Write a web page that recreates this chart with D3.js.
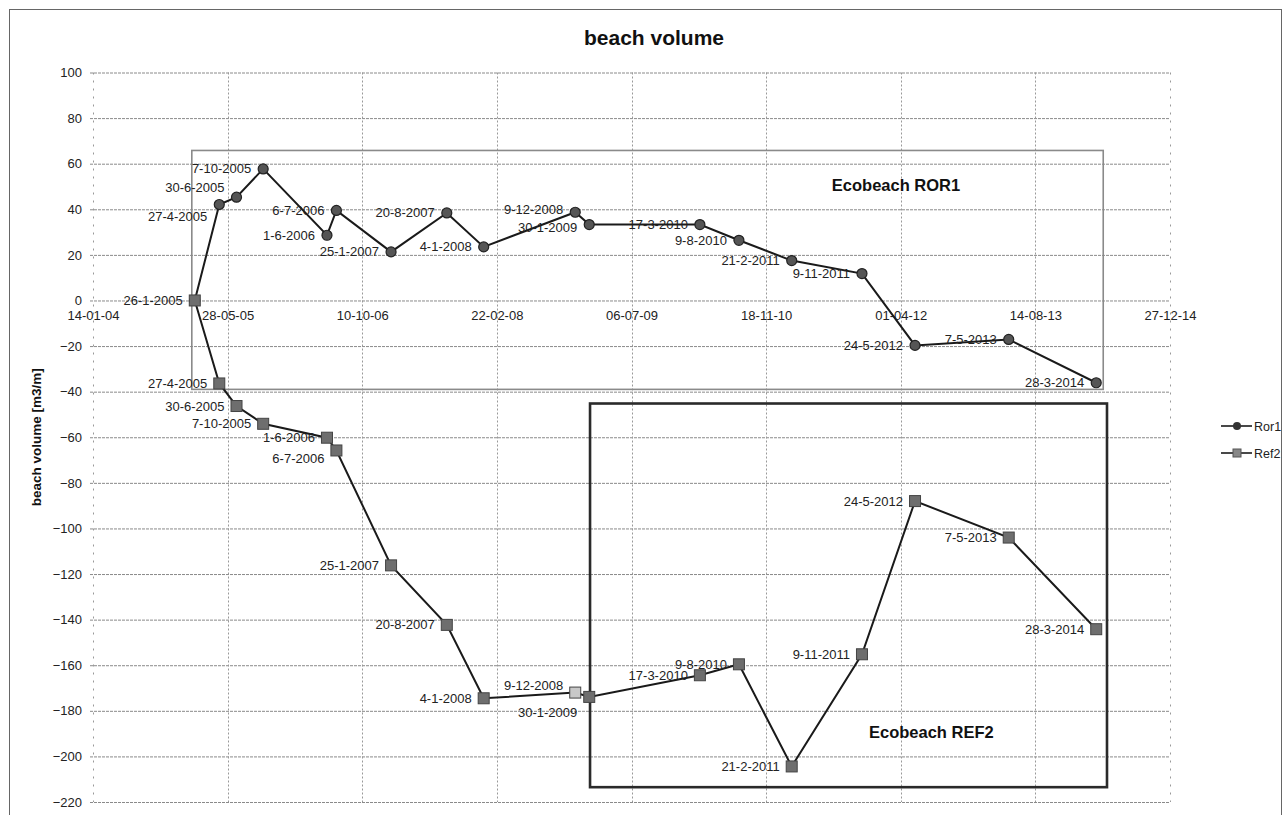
<!DOCTYPE html>
<html>
<head>
<meta charset="utf-8">
<script src="https://cdn.jsdelivr.net/npm/d3@7"></script>
<style>
  html, body { margin: 0; padding: 0; background: #fff; }
  svg { display: block; font-family: "Liberation Sans", Arial, sans-serif; }
</style>
</head>
<body>
<svg id="chart" width="1287" height="815"></svg>
<script>
// ---- data ----
const dates = ["26-1-2005","27-4-2005","30-6-2005","7-10-2005","1-6-2006","6-7-2006","25-1-2007","20-8-2007","4-1-2008","9-12-2008","30-1-2009","17-3-2010","9-8-2010","21-2-2011","9-11-2011","24-5-2012","7-5-2013","28-3-2014"];
const ror1 = [0, 42.1, 45.3, 57.7, 28.6, 39.5, 21.3, 38.4, 23.5, 38.7, 33.3, 33.3, 26.4, 17.5, 11.8, -19.7, -17.1, -36.1];
const ref2 = [0, -36.4, -46.3, -54.1, -60.2, -65.8, -116.2, -142.3, -174.5, -172.0, -173.9, -164.4, -159.6, -204.4, -155.2, -88.0, -104.0, -144.2];
const xTickLabels = ["14-01-04","28-05-05","10-10-06","22-02-08","06-07-09","18-11-10","01-04-12","14-08-13","27-12-14"];
const yTickValues = [100, 80, 60, 40, 20, 0, -20, -40, -60, -80, -100, -120, -140, -160, -180, -200, -220];
const seriesNames = ["Ror1", "Ref2"];
const titleText = "beach volume";
const yTitle = "beach volume [m3/m]";
// annotation boxes in data units: [startDate, endDate, topValue, bottomValue, label]
const boxRor1 = ["15-1-2005", "23-4-2014", 65.8, -39, "Ecobeach ROR1"];
const boxRef2 = ["2-2-2009", "7-5-2014", -45.2, -213.5, "Ecobeach REF2"];

// ---- layout ----
const parseLong = d3.timeParse("%d-%m-%Y");
const parseShort = d3.timeParse("%d-%m-%y");
const svg = d3.select("#chart");

const x = d3.scaleTime()
  .domain([parseShort(xTickLabels[0]), parseShort(xTickLabels[xTickLabels.length - 1])])
  .range([93, 1170]);
const y = d3.scaleLinear().domain([-220, 100]).range([802, 72.5]);

// outer border
svg.append("rect").attr("x", 9.5).attr("y", 9.5).attr("width", 1272).attr("height", 810)
  .attr("fill", "none").attr("stroke", "#666").attr("stroke-width", 1);

// title
svg.append("text").attr("x", 654).attr("y", 45).attr("text-anchor", "middle")
  .attr("font-weight", "bold").attr("font-size", 21).attr("fill", "#111").text(titleText);

// gridlines
const grid = svg.append("g");
grid.selectAll("line.h").data(yTickValues).enter().append("line")
  .attr("x1", 90).attr("x2", 1170)
  .attr("y1", d => y(d) + 0.5).attr("y2", d => y(d) + 0.5)
  .attr("stroke", "#8a8a8a").attr("stroke-width", 1).attr("stroke-dasharray", "3,1");
grid.selectAll("line.v").data(xTickLabels).enter().append("line")
  .attr("x1", d => Math.round(x(parseShort(d))) + 0.5).attr("x2", d => Math.round(x(parseShort(d))) + 0.5)
  .attr("y1", y(100)).attr("y2", y(-220))
  .attr("stroke", "#999").attr("stroke-width", 1)
  .attr("stroke-dasharray", (d, i) => (i === 0 || i === xTickLabels.length - 1) ? "2,6" : "2,2");

// y axis labels
const yAxis = d3.axisLeft(y).tickValues(yTickValues).tickSize(0).tickPadding(0);
const yg = svg.append("g").attr("transform", "translate(82,0)").call(yAxis);
yg.select(".domain").remove();
yg.selectAll("text").attr("font-size", 13).attr("fill", "#222")
  .attr("font-family", "Liberation Sans, Arial, sans-serif");

// x axis labels (at y = 0 line)
const xAxis = d3.axisBottom(x).tickValues(xTickLabels.map(parseShort))
  .tickFormat((d, i) => xTickLabels[i]).tickSize(0).tickPadding(0);
const xg = svg.append("g").attr("transform", `translate(0,${y(0) + 10})`).call(xAxis);
xg.select(".domain").remove();
xg.selectAll("text").attr("font-size", 13).attr("fill", "#222")
  .attr("font-family", "Liberation Sans, Arial, sans-serif");

// y axis title
svg.append("text").attr("transform", `translate(41,${(y(100) + y(-220)) / 2}) rotate(-90)`)
  .attr("text-anchor", "middle").attr("font-weight", "bold").attr("font-size", 13.5)
  .attr("fill", "#111").text(yTitle);

// annotation boxes
function drawBox(b, stroke, width, dash) {
  const x0 = x(parseLong(b[0])), x1 = x(parseLong(b[1]));
  const y0 = y(b[2]), y1 = y(b[3]);
  svg.append("rect").attr("x", x0).attr("y", y0).attr("width", x1 - x0).attr("height", y1 - y0)
    .attr("fill", "none").attr("stroke", stroke).attr("stroke-width", width)
    .attr("stroke-dasharray", dash);
}
drawBox(boxRor1, "#8a8a8a", 1.6, null);
drawBox(boxRef2, "#2a2a2a", 2.6, null);
svg.append("text").attr("x", x(parseLong("20-7-2011"))).attr("y", y(50.5) + 6)
  .attr("font-weight", "bold").attr("font-size", 16.5).attr("fill", "#111").text(boxRor1[4]);
svg.append("text").attr("x", x(parseLong("5-12-2011"))).attr("y", y(-189.5) + 6)
  .attr("font-weight", "bold").attr("font-size", 16.5).attr("fill", "#111").text(boxRef2[4]);

// series
const pts = (vals) => dates.map((d, i) => ({ date: parseLong(d), label: d, v: vals[i], i }));
const line = d3.line().x(d => x(d.date)).y(d => y(d.v));
const dRor = pts(ror1), dRef = pts(ref2);

svg.append("path").datum(dRor).attr("d", line).attr("fill", "none")
  .attr("stroke", "#1a1a1a").attr("stroke-width", 2);
svg.append("path").datum(dRef).attr("d", line).attr("fill", "none")
  .attr("stroke", "#1a1a1a").attr("stroke-width", 2);

svg.append("g").selectAll("circle").data(dRor).enter().append("circle")
  .attr("cx", d => x(d.date)).attr("cy", d => y(d.v)).attr("r", 5)
  .attr("fill", "#555").attr("stroke", "#222").attr("stroke-width", 1.2);
svg.append("g").selectAll("rect").data(dRef).enter().append("rect")
  .attr("x", d => x(d.date) - 5.5).attr("y", d => y(d.v) - 5.5).attr("width", 11).attr("height", 11)
  .attr("fill", d => d.label === "9-12-2008" ? "#c8c8c8" : "#6e6e6e")
  .attr("stroke", "#444").attr("stroke-width", 1);

// data labels (left of each point), with small vertical nudges
const nudgeRor = { "27-4-2005": 12, "30-6-2005": -10, "9-12-2008": -3, "30-1-2009": 3 };
const nudgeRef = { "6-7-2006": 8, "9-12-2008": -7, "30-1-2009": 16 };
function labels(data, nudge, skipFirst) {
  svg.append("g").selectAll("text").data(data.filter(d => !(skipFirst && d.i === 0))).enter().append("text")
    .attr("x", d => x(d.date) - 12)
    .attr("y", d => y(d.v) + (nudge[d.label] || 0) + 4.5)
    .attr("text-anchor", "end").attr("font-size", 13).attr("fill", "#222")
    .text(d => d.label);
}
labels(dRor, nudgeRor, false);
labels(dRef, nudgeRef, true);

// legend
const lg = svg.append("g");
[0, 1].forEach(k => {
  const ly = 426 + k * 27;
  lg.append("line").attr("x1", 1221).attr("x2", 1252).attr("y1", ly).attr("y2", ly)
    .attr("stroke", "#1a1a1a").attr("stroke-width", 1.6);
  if (k === 0) {
    lg.append("circle").attr("cx", 1237).attr("cy", ly).attr("r", 4).attr("fill", "#333");
  } else {
    lg.append("rect").attr("x", 1233).attr("y", ly - 4).attr("width", 8).attr("height", 8)
      .attr("fill", "#888").attr("stroke", "#555");
  }
  lg.append("text").attr("x", 1254).attr("y", ly + 4.5).attr("font-size", 12.5).attr("fill", "#222")
    .text(seriesNames[k]);
});
</script>
</body>
</html>
